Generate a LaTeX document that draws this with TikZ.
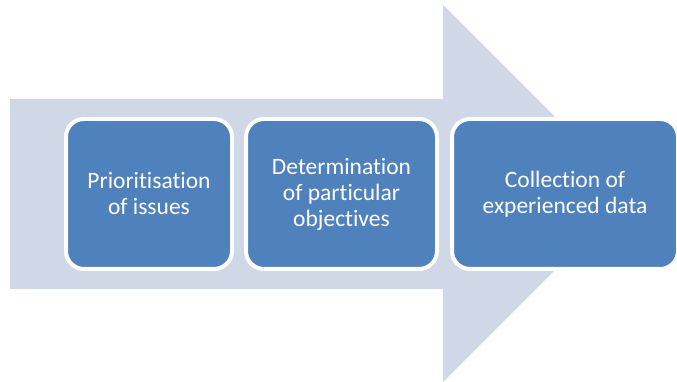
\documentclass[tikz,border=0pt]{standalone}
\usepackage{fontspec}
\setmainfont{Carlito}[Ligatures=CommonOff]
\usetikzlibrary{positioning}
\definecolor{arrowfill}{HTML}{D0D8E8}
\definecolor{stagefill}{HTML}{4F81BD}

\begin{document}
\begin{tikzpicture}[x=1pt,y=1pt,
  stage/.style={draw=white, line width=4pt, fill=stagefill,
    rounded corners=18pt, minimum height=150pt, inner sep=0pt,
    text=white, align=center, font=\fontsize{23.5}{26}\selectfont}]
  \useasboundingbox (0,0) rectangle (677,382);
  % big arrow behind the stages
  \fill[arrowfill] (10,93) -- (443,93) -- (443,0) -- (631.5,188.5)
    -- (443,377) -- (443,283) -- (10,283) -- cycle;
  % stages
  \node[stage, minimum width=166pt] (prio) at (149,188) {Prioritisation\\of issues};
  \node[stage, minimum width=191pt] (determ) at (341.5,188) {Determination\\of particular\\objectives};
  \node[stage, minimum width=226pt] (collect) at (565,188) {Collection of\\experienced data};
\end{tikzpicture}
\end{document}
